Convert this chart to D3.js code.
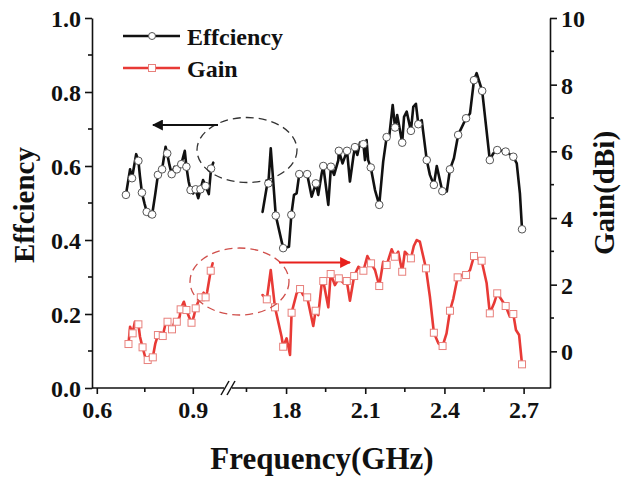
<!DOCTYPE html>
<html>
<head>
<meta charset="utf-8">
<script src="https://cdn.jsdelivr.net/npm/d3@7"></script>
<style>
  html, body { margin: 0; padding: 0; background: #fff; }
  svg { display: block; }
  text { font-family: "Liberation Serif", "Times New Roman", serif; font-weight: bold; fill: #111; }
</style>
</head>
<body>
<svg id="chart" width="626" height="477"></svg>
<script>
// ---------- DATA ----------
// [frequency (GHz), value, marker flag]
const effLeft = [
  [0.691,0.522,1],[0.704,0.591,0],[0.710,0.567,1],[0.723,0.632,0],[0.730,0.614,1],[0.735,0.571,0],
  [0.741,0.528,1],[0.749,0.499,0],[0.756,0.476,1],[0.764,0.465,0],[0.773,0.469,1],[0.783,0.526,0],
  [0.791,0.576,1],[0.798,0.585,0],[0.804,0.591,1],[0.815,0.652,0],[0.820,0.634,1],[0.827,0.603,0],
  [0.834,0.578,1],[0.843,0.598,0],[0.850,0.591,1],[0.859,0.607,0],[0.864,0.605,1],[0.875,0.641,0],
  [0.880,0.598,1],[0.887,0.558,0],[0.893,0.535,1],[0.901,0.526,0],[0.909,0.537,1],[0.917,0.513,0],
  [0.924,0.537,1],[0.932,0.562,0],[0.940,0.546,1],[0.950,0.524,0],[0.957,0.593,1],[0.964,0.609,0]
];
const effRight = [
  [1.711,0.476,0],[1.727,0.544,0],[1.733,0.553,1],[1.742,0.648,0],[1.761,0.466,1],[1.789,0.378,1],
  [1.811,0.382,0],[1.820,0.468,1],[1.830,0.522,0],[1.840,0.526,0],[1.850,0.578,1],[1.880,0.578,1],
  [1.897,0.517,0],[1.913,0.553,1],[1.922,0.522,0],[1.935,0.580,0],[1.941,0.600,1],[1.960,0.495,0],
  [1.970,0.598,1],[1.982,0.576,0],[1.998,0.616,0],[2.000,0.641,1],[2.014,0.607,0],[2.031,0.641,1],
  [2.042,0.558,0],[2.055,0.625,0],[2.061,0.651,1],[2.070,0.630,0],[2.080,0.663,0],[2.093,0.659,1],
  [2.099,0.616,0],[2.105,0.670,0],[2.111,0.616,0],[2.121,0.596,1],[2.137,0.535,0],[2.153,0.495,1],
  [2.168,0.612,0],[2.181,0.678,1],[2.191,0.681,0],[2.204,0.765,0],[2.213,0.704,1],[2.221,0.738,0],
  [2.240,0.663,1],[2.247,0.733,0],[2.257,0.747,0],[2.273,0.695,1],[2.282,0.760,0],[2.292,0.768,0],
  [2.301,0.713,1],[2.314,0.724,0],[2.333,0.616,1],[2.345,0.576,0],[2.360,0.549,1],[2.371,0.600,0],
  [2.392,0.532,1],[2.409,0.531,0],[2.421,0.591,1],[2.436,0.621,0],[2.452,0.684,1],[2.482,0.729,1],
  [2.497,0.742,0],[2.512,0.832,1],[2.522,0.851,0],[2.543,0.803,1],[2.572,0.616,1],[2.585,0.634,0],
  [2.600,0.643,1],[2.632,0.639,1],[2.661,0.625,1],[2.674,0.607,0],[2.686,0.526,0],[2.694,0.429,1]
];
const gainLeft = [
  [0.699,0.219,1],[0.704,0.738,0],[0.712,0.540,1],[0.719,0.888,0],[0.730,0.810,1],[0.735,0.438,0],
  [0.743,0.120,1],[0.751,-0.162,0],[0.759,-0.261,1],[0.767,-0.111,0],[0.775,-0.180,1],[0.783,0.240,0],
  [0.791,0.489,1],[0.798,0.540,0],[0.806,0.459,1],[0.815,0.840,0],[0.821,0.888,1],[0.827,0.738,0],
  [0.835,0.660,1],[0.843,0.888,0],[0.850,0.888,1],[0.859,1.038,0],[0.862,1.260,1],[0.872,1.488,0],
  [0.880,1.239,1],[0.888,1.038,0],[0.896,0.858,1],[0.903,1.038,0],[0.909,1.290,1],[0.917,1.488,0],
  [0.925,1.620,1],[0.934,1.758,0],[0.940,1.620,1],[0.945,1.788,0],[0.956,2.418,1],[0.962,2.640,0]
];
const gainRight = [
  [1.711,1.689,0],[1.727,1.560,1],[1.742,2.439,0],[1.758,1.320,1],[1.783,0.438,0],[1.789,0.138,1],
  [1.802,0.390,0],[1.815,-0.111,0],[1.821,1.158,1],[1.840,1.740,0],[1.853,1.869,1],[1.865,1.689,0],
  [1.880,1.620,1],[1.903,0.759,0],[1.912,1.218,1],[1.922,1.089,0],[1.935,2.040,0],[1.941,2.109,1],
  [1.960,1.320,0],[1.969,2.319,1],[1.985,1.989,0],[2.000,2.190,1],[2.017,2.058,0],[2.030,2.109,1],
  [2.042,1.518,0],[2.058,2.259,1],[2.074,2.538,0],[2.093,2.418,1],[2.108,2.859,0],[2.122,2.640,1],
  [2.137,2.439,0],[2.153,1.959,1],[2.168,2.688,0],[2.181,2.589,1],[2.200,3.060,0],[2.212,2.838,1],
  [2.225,2.988,0],[2.240,2.388,1],[2.250,2.988,0],[2.273,2.790,1],[2.284,3.159,0],[2.295,3.339,0],
  [2.307,3.288,0],[2.330,2.490,1],[2.345,1.638,0],[2.360,0.558,1],[2.377,0.240,0],[2.393,0.159,1],
  [2.408,0.540,0],[2.421,1.218,1],[2.434,1.590,0],[2.450,2.220,1],[2.466,2.289,0],[2.482,2.289,1],
  [2.497,2.439,0],[2.512,2.859,1],[2.528,2.760,0],[2.541,2.718,1],[2.560,2.040,0],[2.572,1.140,1],
  [2.588,1.440,0],[2.600,1.740,1],[2.617,1.539,0],[2.632,1.359,1],[2.648,1.038,0],[2.661,1.119,1],
  [2.671,0.639,0],[2.683,0.489,0],[2.694,-0.390,1]
];
const xTicksLeft = [0.6, 0.9];
const xTicksRight = [1.8, 2.1, 2.4, 2.7];
const xMinorLeft = [0.75];
const xMinorRight = [1.65, 1.95, 2.25, 2.55];
const effTicks = [0, 0.2, 0.4, 0.6, 0.8, 1.0];
const effMinor = [0.1, 0.3, 0.5, 0.7, 0.9];
const gainTicks = [0, 2, 4, 6, 8, 10];
const gainMinor = [1, 3, 5, 7, 9];
const seriesNames = ["Effciency", "Gain"];

// ---------- LAYOUT ----------
const L = 92, R = 550, T = 18, B = 388, BRK = 228;
const svg = d3.select("#chart");
const xL = d3.scaleLinear().domain([0.585, 1.01]).range([L, BRK]);
const xR = d3.scaleLinear().domain([1.58, 2.80]).range([BRK, R]);
const yE = d3.scaleLinear().domain([0, 1]).range([B, T]);
const yG = d3.scaleLinear().domain([-1.1, 10]).range([B, T]);

const black = "#111", red = "#e83a36", redMk = "#e8807c";
const fontTick = 24;

// ---------- AXES ----------
function styleAxis(g) {
  g.selectAll("path.domain").attr("stroke", black).attr("stroke-width", 1.6);
  g.selectAll(".tick line").attr("stroke", black).attr("stroke-width", 1.6);
  g.selectAll(".tick text").attr("font-size", fontTick)
    .attr("font-family", "'Liberation Serif','Times New Roman',serif")
    .attr("font-weight", "bold").attr("fill", black);
}
// left
const gLeft = svg.append("g").attr("transform", `translate(${L},0)`)
  .call(d3.axisLeft(yE).tickValues(effTicks).tickFormat(d3.format(".1f")).tickSize(7).tickSizeOuter(0).tickPadding(4));
styleAxis(gLeft);
gLeft.selectAll(".tick text").attr("dy", "0.36em");
gLeft.append("g").selectAll("line").data(effMinor).join("line")
  .attr("x1", 0).attr("x2", -4).attr("y1", d => yE(d)).attr("y2", d => yE(d))
  .attr("stroke", black).attr("stroke-width", 1.6);
// right
const gRight = svg.append("g").attr("transform", `translate(${R},0)`)
  .call(d3.axisRight(yG).tickValues(gainTicks).tickSize(7).tickSizeOuter(0).tickPadding(4));
styleAxis(gRight);
gRight.selectAll(".tick text").attr("dy", "0.36em");
gRight.append("g").selectAll("line").data(gainMinor).join("line")
  .attr("x1", 0).attr("x2", 4).attr("y1", d => yG(d)).attr("y2", d => yG(d))
  .attr("stroke", black).attr("stroke-width", 1.6);
// bottom
svg.append("line").attr("x1", L).attr("x2", R).attr("y1", B).attr("y2", B)
  .attr("stroke", black).attr("stroke-width", 1.6);
const gBL = svg.append("g").attr("transform", `translate(0,${B})`)
  .call(d3.axisBottom(xL).tickValues(xTicksLeft).tickFormat(d3.format(".1f")).tickSize(6).tickSizeOuter(0).tickPadding(5));
const gBR = svg.append("g").attr("transform", `translate(0,${B})`)
  .call(d3.axisBottom(xR).tickValues(xTicksRight).tickFormat(d3.format(".1f")).tickSize(6).tickSizeOuter(0).tickPadding(5));
[gBL, gBR].forEach(g => { styleAxis(g); g.select("path.domain").remove(); g.selectAll(".tick text").attr("dy", "0.78em"); });
svg.append("g").selectAll("line")
  .data(xMinorLeft.map(v => xL(v)).concat(xMinorRight.map(v => xR(v))))
  .join("line").attr("x1", d => d).attr("x2", d => d).attr("y1", B).attr("y2", B + 4)
  .attr("stroke", black).attr("stroke-width", 1.6);
// break mark
svg.append("rect").attr("x", BRK - 4).attr("y", B - 3).attr("width", 8).attr("height", 6).attr("fill", "#fff");
[-3, 3].forEach(o => {
  svg.append("line").attr("x1", BRK + o - 4).attr("y1", B + 7).attr("x2", BRK + o + 4).attr("y2", B - 7)
    .attr("stroke", black).attr("stroke-width", 1.5);
});

// ---------- SERIES ----------
function drawSeries(data, xs, ys, color, lw, markerType, mkStroke) {
  const line = d3.line().x(d => xs(d[0])).y(d => ys(d[1]));
  svg.append("path").datum(data).attr("d", line)
    .attr("fill", "none").attr("stroke", color).attr("stroke-width", lw)
    .attr("stroke-linejoin", "round").attr("stroke-linecap", "round");
  const pts = data.filter(d => d[2] === 1);
  if (markerType === "circle") {
    svg.append("g").selectAll("circle").data(pts).join("circle")
      .attr("cx", d => xs(d[0])).attr("cy", d => ys(d[1])).attr("r", 3.8)
      .attr("fill", "#fff").attr("stroke", mkStroke).attr("stroke-width", 1);
  } else {
    svg.append("g").selectAll("rect").data(pts).join("rect")
      .attr("x", d => xs(d[0]) - 3.5).attr("y", d => ys(d[1]) - 3.5).attr("width", 7).attr("height", 7)
      .attr("fill", "#fff").attr("stroke", mkStroke).attr("stroke-width", 1);
  }
}
drawSeries(gainLeft, xL, yG, red, 2.6, "square", redMk);
drawSeries(gainRight, xR, yG, red, 2.6, "square", redMk);
drawSeries(effLeft, xL, yE, black, 2.6, "circle", "#555");
drawSeries(effRight, xR, yE, black, 2.6, "circle", "#555");

// ---------- ANNOTATIONS ----------
const defs = svg.append("defs");
function arrowHead(id, color) {
  defs.append("marker").attr("id", id).attr("viewBox", "0 0 10 10").attr("refX", 9).attr("refY", 5)
    .attr("markerWidth", 5).attr("markerHeight", 5).attr("orient", "auto-start-reverse")
    .append("path").attr("d", "M0,0 L10,5 L0,10 Z").attr("fill", color);
}
arrowHead("ahBlack", black);
arrowHead("ahRed", "#e8201c");
svg.append("ellipse").attr("cx", 247).attr("cy", 150).attr("rx", 50).attr("ry", 32.5)
  .attr("fill", "none").attr("stroke", "#333").attr("stroke-width", 1.3).attr("stroke-dasharray", "8,5");
svg.append("line").attr("x1", 218).attr("y1", 125).attr("x2", 153).attr("y2", 125)
  .attr("stroke", black).attr("stroke-width", 2.2).attr("marker-end", "url(#ahBlack)");
svg.append("ellipse").attr("cx", 239.5).attr("cy", 281.5).attr("rx", 49.5).attr("ry", 33.5)
  .attr("fill", "none").attr("stroke", "#d0504c").attr("stroke-width", 1.3).attr("stroke-dasharray", "8,5");
svg.append("line").attr("x1", 279).attr("y1", 262.5).attr("x2", 350).attr("y2", 262.5)
  .attr("stroke", "#e8201c").attr("stroke-width", 2.2).attr("marker-end", "url(#ahRed)");

// ---------- LEGEND ----------
const leg = svg.append("g");
[[black, "circle", "#555", 36, 45], [red, "square", redMk, 68, 77]].forEach((s, i) => {
  leg.append("line").attr("x1", 123).attr("x2", 180).attr("y1", s[3]).attr("y2", s[3])
    .attr("stroke", s[0]).attr("stroke-width", 2.6);
  if (s[1] === "circle") {
    leg.append("circle").attr("cx", 152).attr("cy", s[3]).attr("r", 3.5)
      .attr("fill", "#fff").attr("stroke", s[2]).attr("stroke-width", 1);
  } else {
    leg.append("rect").attr("x", 148.5).attr("y", s[3] - 3.5).attr("width", 7).attr("height", 7)
      .attr("fill", "#fff").attr("stroke", s[2]).attr("stroke-width", 1);
  }
  leg.append("text").attr("x", 187).attr("y", s[4]).attr("font-size", 24).text(seriesNames[i]);
});

// ---------- AXIS TITLES ----------
svg.append("text").attr("transform", "translate(34,205) rotate(-90)")
  .attr("text-anchor", "middle").attr("font-size", 29).text("Effciency");
svg.append("text").attr("transform", "translate(614,193) rotate(-90)")
  .attr("text-anchor", "middle").attr("font-size", 29).text("Gain(dBi)");
svg.append("text").attr("x", 322).attr("y", 469)
  .attr("text-anchor", "middle").attr("font-size", 31).text("Frequency(GHz)");
</script>
</body>
</html>
